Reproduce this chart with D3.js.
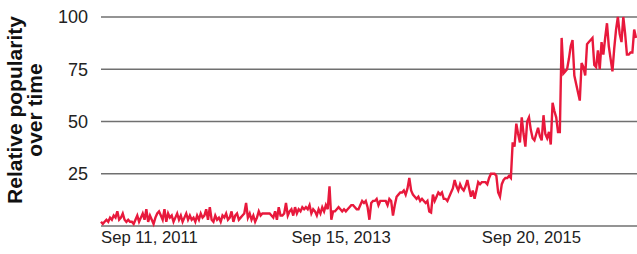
<!DOCTYPE html>
<html>
<head>
<meta charset="utf-8">
<script src="https://cdn.jsdelivr.net/npm/d3@7"></script>
<style>
  body { margin: 0; background: #fff; }
  text { font-family: "Liberation Sans", Arial, Helvetica, sans-serif; }
</style>
</head>
<body>
<script>
width = 637
height = 254

// weekly values, first week = Sep 11, 2011
startDate = new Date(2011, 8, 11)
values = [
  2,1,2,3,2,4,3,5,4,7,
  3,4,6,3,2,3,2,2,1,3,
  5,2,4,6,3,8,2,5,3,1,
  4,6,7,5,3,8,2,6,4,5,
  2,4,6,3,5,2,4,6,3,5,
  3,4,2,5,3,6,4,5,8,3,
  9,3,2,5,3,4,2,5,4,6,
  3,4,7,2,5,6,3,4,5,6,
  11,4,6,3,5,2,4,7,5,6,
  6,6,6,6,5,4,7,3,9,5,
  5,6,11,5,7,8,5,9,6,8,
  7,9,8,9,8,10,6,8,7,5,
  8,6,9,7,10,8,19,3,7,7,
  8,9,8,7,8,7,8,9,10,10,
  9,8,8,10,12,11,12,9,3,11,
  12,12,13,10,12,12,12,12,10,13,
  12,5,10,14,15,16,16,17,15,18,
  23,17,15,14,13,14,12,13,12,11,
  12,7,6.5,15,12,14,16,15,16,13,
  13,12,14,16,18,22,19,17,20,18,
  17,19,22,18,14,17,13,17,21,20,
  21,21,21,20,23,25,25,25,24,16,
  14,20,22,23,23,24,23,40,38,49,
  44,40,52,44,38,50,52,46,42,41,
  44,47,43,41,53,44,42,45,39,59,
  55,52,45,45,90,73,74,75,80,86,
  89,72,68,64,60,78,76,72,87,88,
  89,90,77,76,84,75,88,82,90,97,
  86,80,74,85,94,100,92,88,100,92,
  82,82,83,83,94,90
]
yTicks = [25, 50, 75, 100]
xTickDates = [new Date(2011, 8, 11), new Date(2013, 8, 15), new Date(2015, 8, 20)]

data = values.map(function(v, i) {
    return { date: d3.timeWeek.offset(startDate, i), value: v }
})

svg = d3.select("body")
    .append("svg")
    .attr("width", width)
    .attr("height", height)

x = d3.scaleTime()
    .domain([startDate, data[data.length - 1].date])
    .range([101, 636])
y = d3.scaleLinear()
    .domain([0, 100])
    .range([226, 17])

// grid lines
svg.selectAll("line.grid")
    .data(yTicks)
    .enter()
    .append("line")
    .attr("class", "grid")
    .attr("x1", 101)
    .attr("x2", width)
    .attr("y1", d => y(d))
    .attr("y2", d => y(d))
    .attr("stroke", "#707070")
    .attr("stroke-width", 1.6)

svg.selectAll("text.ylab")
    .data(yTicks)
    .enter()
    .append("text")
    .attr("class", "ylab")
    .attr("x", 88)
    .attr("y", d => y(d))
    .attr("dy", "0.36em")
    .attr("text-anchor", "end")
    .attr("font-size", 18)
    .attr("fill", "#222")
    .text(d => d)

// bottom axis
svg.append("line")
    .attr("x1", 101)
    .attr("x2", width)
    .attr("y1", y(0))
    .attr("y2", y(0))
    .attr("stroke", "#707070")
    .attr("stroke-width", 1.6)

fmt = d3.timeFormat("%b %-d, %Y")
svg.selectAll("text.xlab")
    .data(xTickDates)
    .enter()
    .append("text")
    .attr("class", "xlab")
    .attr("x", d => x(d))
    .attr("y", 243)
    .attr("font-size", 16.7)
    .attr("fill", "#222")
    .text(d => fmt(d))

// the series
line = d3.line()
    .x(d => x(d.date))
    .y(d => y(d.value))

svg.append("path")
    .datum(data)
    .attr("d", line)
    .attr("fill", "none")
    .attr("stroke", "#e8193c")
    .attr("stroke-width", 2.4)
    .attr("stroke-linejoin", "miter")

// y title, two lines
title = svg.append("text")
    .attr("transform", "translate(0,110) rotate(-90)")
    .attr("text-anchor", "middle")
    .attr("font-size", 21)
    .attr("font-weight", "bold")
    .attr("fill", "#111")
title.append("tspan").attr("x", 0).attr("y", 22).text("Relative popularity")
title.append("tspan").attr("x", 0).attr("y", 42).text("over time")
</script>
</body>
</html>
